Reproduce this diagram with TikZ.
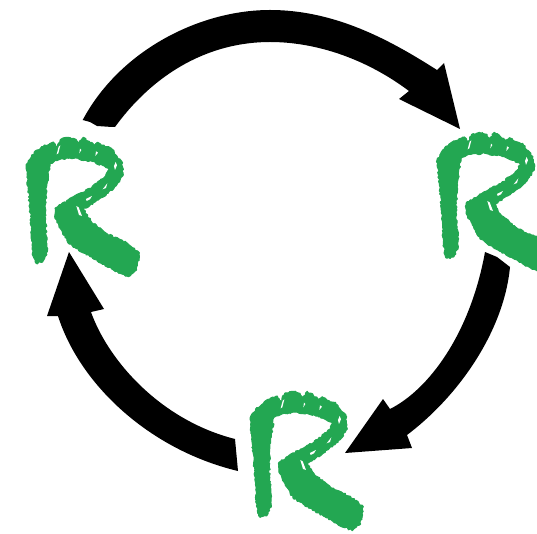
\documentclass[tikz,border=0pt]{standalone}
\usetikzlibrary{decorations.pathmorphing}
\definecolor{rgreen}{RGB}{35,167,82}
\tikzset{
  arrowshape/.style={fill=black,draw=none},
  brush/.style={fill=rgreen,draw=rgreen,line width=1pt,line join=round,
    decorate,decoration={random steps,segment length=1.8pt,amplitude=.9pt}},
  fleck/.style={fill=white,draw=none}
}
\newcommand{\brushR}[2]{%
  \begin{scope}[shift={(#1,#2)},scale=0.3333]
    \path[brush] (108,490) -- (100,470) -- (97,440) -- (92,350) -- (85,270) -- (78,195) -- (95,165) -- (125,140) -- (160,126) -- (172,142) -- (182,118) -- (205,112) -- (228,118) -- (236,130) -- (250,112) -- (268,124) -- (283,136) -- (295,128) -- (315,140) -- (335,145) -- (348,165) -- (366,185) -- (370,225) -- (342,265) -- (295,300) -- (250,328) -- (272,362) -- (322,402) -- (380,428) -- (418,458) -- (410,510) -- (385,530) -- (340,510) -- (270,470) -- (207,432) -- (165,355) -- (165,325) -- (220,290) -- (270,265) -- (318,226) -- (328,206) -- (280,185) -- (222,175) -- (180,178) -- (150,190) -- (140,260) -- (136,340) -- (142,455) -- (128,486) -- cycle;
    \fill[fleck] (176,140) -- (181,136) -- (175,160) -- (170,163) -- cycle;
    \fill[fleck] (240,146) -- (244,150) -- (238,160) -- cycle;
    \fill[fleck] (288,154) -- (294,158) -- (286,168) -- cycle;
    \fill[fleck] (347,186) -- (351,196) -- (345,210) -- (342,198) -- cycle;
    \fill[fleck] (229,318) -- (236,322) -- (246,348) -- (237,345) -- cycle;
    \fill[fleck] (258,297) -- (276,288) -- (270,298) -- (260,303) -- cycle;
    \fill[fleck] (308,268) -- (322,250) -- (318,264) -- cycle;
  \end{scope}}
\begin{document}
\begin{tikzpicture}[x=1pt,y=-1pt]
  \clip (0,0) rectangle (537,534);
  \fill[white] (0,0) rectangle (537,534);
  % top arrow
  \fill[arrowshape] (82.7,120) .. controls (120,50) and (200,10) .. (270,10)
    .. controls (335,10) and (390,40) .. (437,70)
    -- (444,63) -- (460,129) -- (399,99) -- (409,91)
    .. controls (365,58) and (315,42) .. (270,42)
    .. controls (210,42) and (155,72) .. (115,127)
    -- (112,127) -- (97,126) -- (90,122) -- cycle;
  % right arrow
  \fill[arrowshape] (510,267) .. controls (504,330) and (460,395) .. (407,435)
    -- (412,448) -- (345,453) -- (383,399) -- (390,409)
    .. controls (428,390) and (470,335) .. (485,252)
    -- (497,257) -- cycle;
  % left arrow
  \fill[arrowshape] (238,471) .. controls (150,450) and (80,385) .. (58,316)
    -- (47,316) -- (69,252) -- (104,309) -- (91,312)
    .. controls (108,360) and (160,420) .. (235,439)
    -- cycle;
  % letters
  \pgfmathsetseed{7}
  \brushR{0}{100}
  \brushR{411}{95}
  \brushR{224}{354}
\end{tikzpicture}
\end{document}
